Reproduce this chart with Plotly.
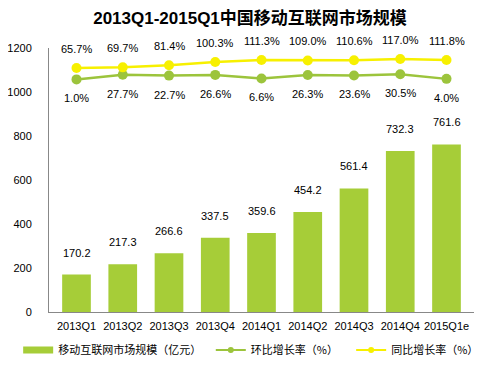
import plotly.graph_objects as go

categories = ["2013Q1", "2013Q2", "2013Q3", "2013Q4", "2014Q1", "2014Q2", "2014Q3", "2014Q4", "2015Q1e"]
market_size = [170.2, 217.3, 266.6, 337.5, 359.6, 454.2, 561.4, 732.3, 761.6]
qoq_growth = [1.0, 27.7, 22.7, 26.6, 6.6, 26.3, 23.6, 30.5, 4.0]
yoy_growth = [65.7, 69.7, 81.4, 100.3, 111.3, 109.0, 110.6, 117.0, 111.8]
y_ticks = [0, 200, 400, 600, 800, 1000, 1200]
series_names = ["移动互联网市场规模（亿元）", "环比增长率（%）", "同比增长率（%）"]

BAR = "#a6cd38"
GREEN = "#9cc43c"
YELLOW = "#f7f000"
FONT = "Arial, 'Noto Sans CJK SC', sans-serif"
CJK = "'Noto Sans CJK SC', sans-serif"

fig = go.Figure()
fig.add_trace(go.Bar(x=categories, y=market_size, name=series_names[0], showlegend=False,
                     marker=dict(color=BAR, line=dict(width=0))))
fig.add_trace(go.Scatter(x=categories, y=qoq_growth, name=series_names[1], yaxis="y2", showlegend=False,
                         mode="lines+markers", line=dict(color=GREEN, width=2.5),
                         marker=dict(color=GREEN, size=10)))
fig.add_trace(go.Scatter(x=categories, y=yoy_growth, name=series_names[2], yaxis="y2", showlegend=False,
                         mode="lines+markers", line=dict(color=YELLOW, width=2.5),
                         marker=dict(color=YELLOW, size=10)))

# legend entries styled like the original (wide bar swatch, small markers)
fig.add_trace(go.Scatter(x=[None], y=[None], name=series_names[0], mode="lines",
                         line=dict(color=BAR, width=7), legend="legend"))
fig.add_trace(go.Scatter(x=[None], y=[None], name=series_names[1], mode="lines+markers",
                         line=dict(color=GREEN, width=2), marker=dict(color=GREEN, size=6),
                         legend="legend2"))
fig.add_trace(go.Scatter(x=[None], y=[None], name=series_names[2], mode="lines+markers",
                         line=dict(color=YELLOW, width=2), marker=dict(color=YELLOW, size=6),
                         legend="legend3"))

ann = []
for c, v in zip(categories, market_size):
    ann.append(dict(x=c, y=v, xref="x", yref="y", text=f"{v:.1f}", showarrow=False,
                    yshift=22, font=dict(size=11, color="#000000", family=FONT)))
for c, v in zip(categories, qoq_growth):
    ann.append(dict(x=c, y=v, xref="x", yref="y2", text=f"{v:.1f}%", showarrow=False,
                    yshift=-19, font=dict(size=11, color="#000000", family=FONT)))
for c, v in zip(categories, yoy_growth):
    ann.append(dict(x=c, y=v, xref="x", yref="y2", text=f"{v:.1f}%", showarrow=False,
                    yshift=19, font=dict(size=11, color="#000000", family=FONT)))

def leg(xpos):
    return dict(orientation="h", x=xpos, xanchor="left", y=0.042, yanchor="middle",
                yref="container", xref="container", font=dict(size=11, family=CJK),
                itemwidth=30, bgcolor="rgba(0,0,0,0)")

# page body has an 8px default margin, so the figure is sized to fit the 492x365 window
fig.update_layout(
    width=484, height=357,
    margin=dict(l=41, r=18, t=40, b=53, autoexpand=False),
    paper_bgcolor="white", plot_bgcolor="white",
    font=dict(family=FONT, size=11, color="#000000"),
    title=dict(text="<b>2013Q1-2015Q1中国移动互联网市场规模</b>", x=0.5, xanchor="center",
               y=0.972, yanchor="middle", font=dict(size=17, family=FONT, color="#000000")),
    bargap=0.38,
    xaxis=dict(showline=True, linecolor="#888888", linewidth=1, ticks="", showgrid=False,
               tickfont=dict(size=11), ticklabelstandoff=4),
    yaxis=dict(range=[0, 1200], tickvals=y_ticks, showline=True, linecolor="#888888", linewidth=1,
               showgrid=False, zeroline=False, ticks="", tickfont=dict(size=11), ticklabelstandoff=14),
    yaxis2=dict(overlaying="y", side="right", range=[-1325, 180], visible=False, showgrid=False),
    showlegend=True,
    legend=leg(0.021),
    legend2=leg(0.419),
    legend3=leg(0.709),
    annotations=ann,
)

fig.write_html("out.html")
